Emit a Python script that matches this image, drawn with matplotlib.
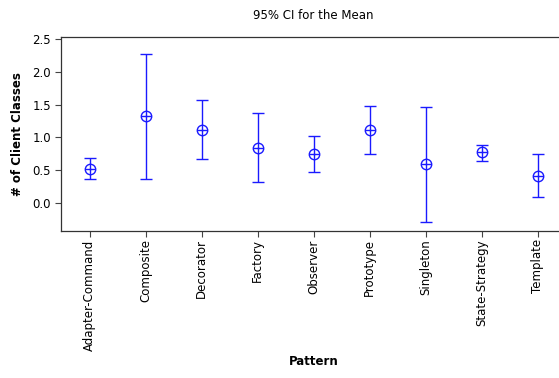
import matplotlib
matplotlib.use("Agg")
import matplotlib.pyplot as plt
import numpy as np

patterns = ["Adapter-Command", "Composite", "Decorator", "Factory", "Observer",
            "Prototype", "Singleton", "State-Strategy", "Template"]
means = [0.51, 1.32, 1.11, 0.84, 0.75, 1.11, 0.59, 0.77, 0.41]
lower = [0.36, 0.37, 0.67, 0.32, 0.47, 0.74, -0.29, 0.64, 0.09]
upper = [0.68, 2.27, 1.57, 1.37, 1.02, 1.48, 1.47, 0.89, 0.74]

plt.rcParams["font.family"] = "DejaVu Sans"

fig = plt.figure(figsize=(5.59, 3.78), dpi=100)
ax = fig.add_axes([0.110, 0.389, 0.902, 0.514])

x = np.arange(len(patterns))
m = np.array(means)
err = np.vstack([m - np.array(lower), np.array(upper) - m])

blue = "#1a1aff"
ax.errorbar(x, m, yerr=err, fmt="none", ecolor=blue, elinewidth=1.0,
            capsize=4, capthick=1.0)
ax.plot(x, m, "o", ms=7.5, mfc="white", mec=blue, mew=1.0, ls="none")
ax.plot(x, m, "+", ms=7.5, mec=blue, mew=1.0, ls="none")

ax.set_xlim(-0.5, 8.5)
ax.set_ylim(-0.43, 2.54)
ax.set_yticks([0.0, 0.5, 1.0, 1.5, 2.0, 2.5])
ax.set_yticklabels(["0.0", "0.5", "1.0", "1.5", "2.0", "2.5"])
ax.set_xticks(x)
ax.set_xticklabels(patterns, rotation=90)
ax.tick_params(labelsize=8.5, length=4, width=0.8, color="#444444")
ax.tick_params(axis="x", pad=2)

for s in ax.spines.values():
    s.set_color("#333333")
    s.set_linewidth(0.9)

ax.set_title("95% CI for the Mean", fontsize=8.5, pad=13)
ax.set_ylabel("# of Client Classes", fontsize=8.5, fontweight="bold", labelpad=6)
ax.set_xlabel("Pattern", fontsize=8.5, fontweight="bold", labelpad=3)

fig.savefig("out.png", dpi=100)
